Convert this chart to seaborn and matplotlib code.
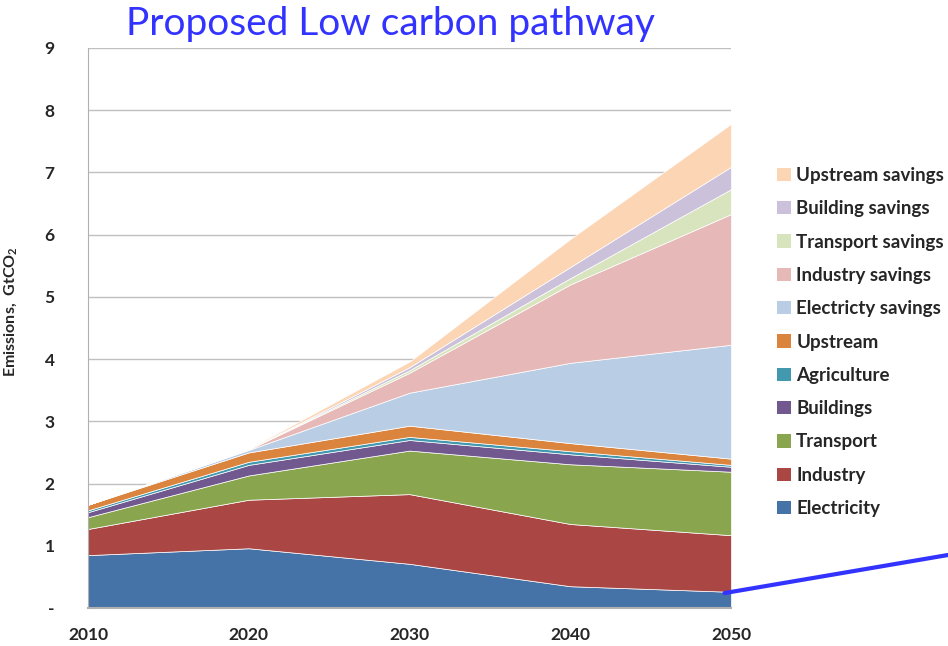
import numpy as np
import pandas as pd
import matplotlib
matplotlib.use("Agg")
import matplotlib.pyplot as plt
from matplotlib.patches import Patch
import seaborn as sns

# data (GtCO2 per layer, stacked)
years = [2010, 2020, 2030, 2040, 2050]
electricity = [0.85, 0.96, 0.71, 0.35, 0.26]
industry = [0.42, 0.78, 1.12, 1.00, 0.91]
transport = [0.19, 0.39, 0.70, 0.96, 1.02]
buildings = [0.08, 0.17, 0.17, 0.16, 0.08]
agriculture = [0.03, 0.05, 0.05, 0.05, 0.03]
upstream = [0.09, 0.15, 0.18, 0.13, 0.10]
electricity_savings = [0.0, 0.04, 0.53, 1.29, 1.83]
industry_savings = [0.0, 0.01, 0.32, 1.26, 2.10]
transport_savings = [0.0, 0.0, 0.04, 0.10, 0.40]
building_savings = [0.0, 0.0, 0.05, 0.18, 0.36]
upstream_savings = [0.0, 0.01, 0.09, 0.45, 0.69]

labels = ["Electricity", "Industry", "Transport", "Buildings", "Agriculture",
          "Upstream", "Electricty savings", "Industry savings",
          "Transport savings", "Building savings", "Upstream savings"]
colors = ["#4572A7", "#AA4643", "#89A54E", "#71588F", "#4198AF", "#DB843D",
          "#B9CDE5", "#E6B9B8", "#D7E4BD", "#CCC1DA", "#FCD5B5"]

df = pd.DataFrame({"year": years, "Electricity": electricity, "Industry": industry,
                   "Transport": transport, "Buildings": buildings,
                   "Agriculture": agriculture, "Upstream": upstream,
                   "Electricty savings": electricity_savings,
                   "Industry savings": industry_savings,
                   "Transport savings": transport_savings,
                   "Building savings": building_savings,
                   "Upstream savings": upstream_savings})

sns.set_style("white")
plt.rcParams["font.family"] = ["Lato", "DejaVu Sans"]
plt.rcParams["mathtext.fontset"] = "custom"
plt.rcParams["mathtext.rm"] = "Lato"
plt.rcParams["mathtext.bf"] = "Lato:bold"

fig = plt.figure(figsize=(9.48, 6.46), dpi=100)
ax = fig.add_axes([88 / 948, 38 / 646, (731 - 88) / 948, (608 - 48) / 646])

ax.stackplot(df["year"], [df[l] for l in labels], colors=colors,
             edgecolor="white", linewidth=0.5, zorder=2)

ax.set_xlim(2010, 2050)
ax.set_ylim(0, 9)
ax.set_xticks(years)
ax.set_xticklabels([str(y) for y in years], fontsize=12.5, fontweight="bold")
ax.set_yticks(range(10))
ax.set_yticklabels(["-"] + [str(i) for i in range(1, 10)], fontsize=12.5, fontweight="bold")
ax.tick_params(axis="x", length=0, pad=14)
ax.tick_params(axis="y", length=0, pad=24)
ax.yaxis.grid(True, color="#C0C0C0", linewidth=1, zorder=0)
ax.set_axisbelow(True)
sns.despine(ax=ax, top=True, right=True)
ax.spines["left"].set_color("#B0B0B0")
ax.spines["bottom"].set_color("#B0B0B0")
ax.spines["bottom"].set_linewidth(1.5)

ax.set_ylabel(r"Emissions,  GtCO$_\mathbf{2}$", fontsize=11.5, fontweight="bold")
ax.yaxis.set_label_coords((20 - 88) / 643, (608 - 312) / 560)

fig.text(390 / 948, 1 - 24 / 646, "Proposed Low carbon pathway", color="#3333FF",
         fontsize=28, ha="center", va="center")

handles = [Patch(facecolor=c, edgecolor="none") for c in colors]
ax.legend(handles[::-1], labels[::-1], loc="upper left",
          bbox_to_anchor=(777 / 948, 1 - 167 / 646), bbox_transform=fig.transFigure,
          frameon=False, prop={"weight": "bold", "size": 13.5},
          handlelength=0.72, handleheight=0.72, handletextpad=0.3,
          labelspacing=0.87, borderpad=0, borderaxespad=0)

# blue pointer line from the 2050 electricity value off to the right
ax.annotate("", xy=(2049.6, electricity[-1] - 0.02), xytext=(1.0, 1 - 555 / 646),
            textcoords="figure fraction", annotation_clip=False,
            arrowprops=dict(arrowstyle="-", color="#3333FF", lw=3, shrinkA=0, shrinkB=0))

fig.savefig("out.png", dpi=100)
